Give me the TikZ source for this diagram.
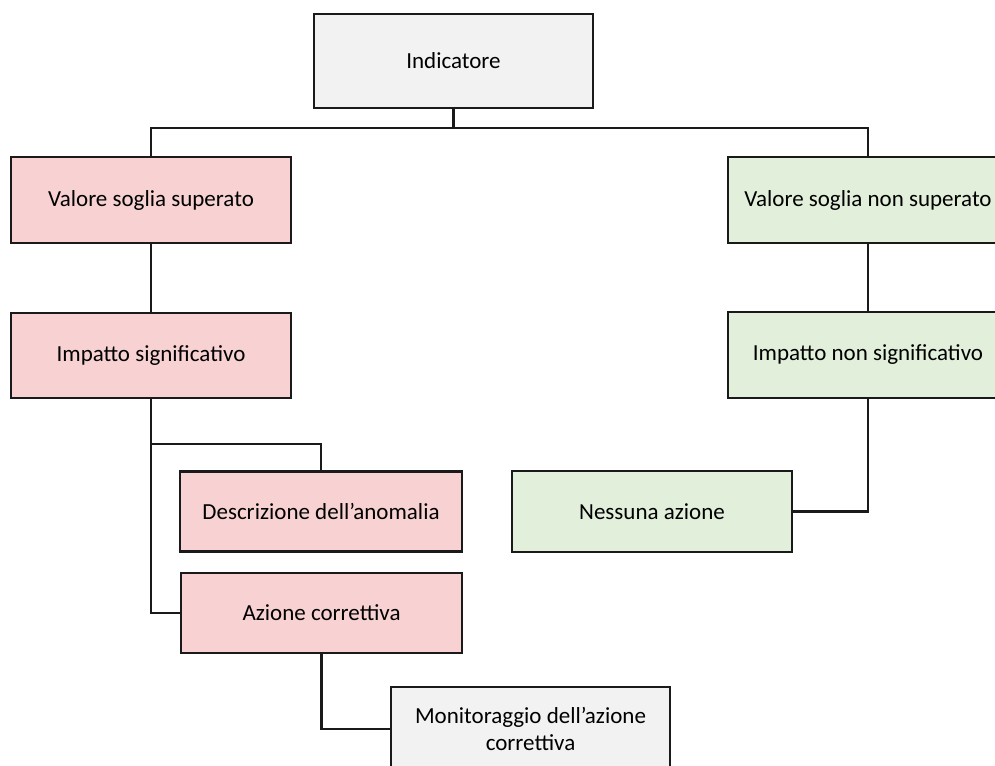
\documentclass[tikz,border=0pt]{standalone}
\usepackage{fontspec}
\setmainfont{Carlito}
\definecolor{pinkf}{HTML}{F8D2D2}
\definecolor{greenf}{HTML}{E2EFDA}
\definecolor{grayf}{HTML}{F2F2F2}
\definecolor{edge}{HTML}{1A1A1A}
\begin{document}
\begin{tikzpicture}[x=1pt,y=-1pt,
  box/.style={draw=edge,line width=2.6pt,rectangle,inner sep=2pt,align=center,
    font=\fontsize{23}{27}\selectfont,text=black},
  redbox/.style={box,fill=pinkf},
  greenbox/.style={box,fill=greenf},
  graybox/.style={box,fill=grayf},
  link/.style={draw=edge,line width=2.3pt}]
\useasboundingbox (0,0) rectangle (995,765);
\begin{scope}
\clip (0,0) rectangle (995,765);
\node[graybox,minimum width=279pt,minimum height=94pt] (ind) at (453.5,61) {Indicatore};
\node[redbox,minimum width=280pt,minimum height=86pt] (vss) at (151,200) {Valore soglia superato};
\node[redbox,minimum width=280pt,minimum height=85pt] (is) at (151,355.5) {Impatto significativo};
\node[greenbox,minimum width=280pt,minimum height=86pt] (vsns) at (868,200) {Valore soglia non superato};
\node[greenbox,minimum width=280pt,minimum height=86pt] (ins) at (868,355) {Impatto non significativo};
\node[greenbox,minimum width=280pt,minimum height=81pt] (na) at (652,511.5) {Nessuna azione};
\node[redbox,minimum width=282pt,minimum height=80pt] (da) at (321,511.5) {Descrizione dell’anomalia};
\node[redbox,minimum width=281pt,minimum height=80pt] (ac) at (321.5,613) {Azione correttiva};
\node[graybox,minimum width=279pt,minimum height=84pt] (mon) at (530.5,729) {Monitoraggio dell’azione\\correttiva};
\coordinate (bus) at (453.5,128);
\coordinate (br) at (151,444);
\draw[link] (ind.south) -- (bus);
\draw[link] (vss.north) |- (bus) -| (vsns.north);
\draw[link] (vss.south) -- (is.north);
\draw[link] (vsns.south) -- (ins.north);
\draw[link] (ins.south) |- (na.east);
\draw[link] (is.south) -- (br) -| (da.north);
\draw[link] (br) |- (ac.west);
\draw[link] (ac.south) |- (mon.west);
\end{scope}
\end{tikzpicture}
\end{document}
